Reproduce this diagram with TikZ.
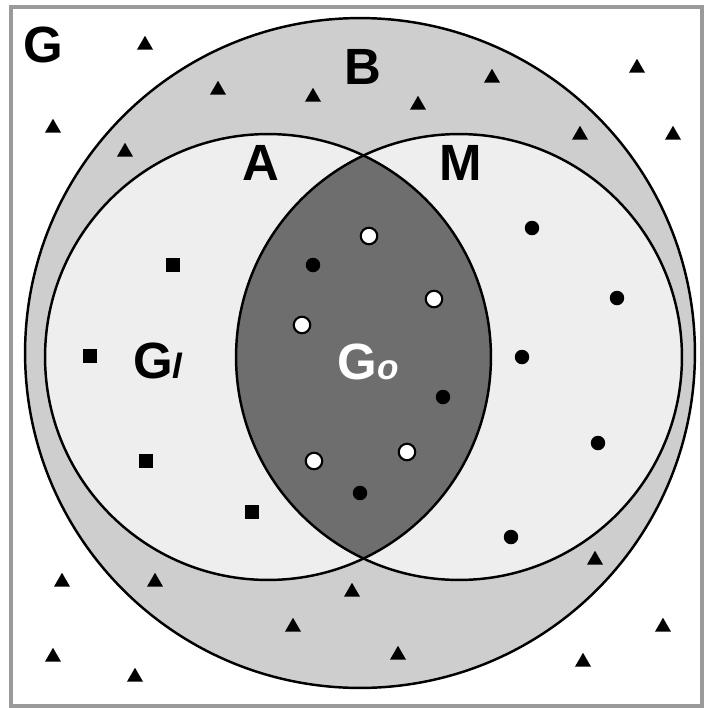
\documentclass[tikz,border=0pt]{standalone}
\usepackage{fontspec}
\setmainfont{Liberation Sans}
\usetikzlibrary{shapes.geometric}

\definecolor{ringGRAY}{HTML}{CECECE}
\definecolor{setGRAY}{HTML}{EEEEEE}
\definecolor{lensGRAY}{HTML}{6E6E6E}
\definecolor{frameGRAY}{HTML}{9A9A9A}

\tikzset{
  setline/.style={draw=black, line width=1.4pt},
  setlabel/.style={inner sep=0pt, font=\fontsize{29}{31}\selectfont\bfseries},
  tri/.style={regular polygon, regular polygon sides=3, fill=black, inner sep=0pt, minimum size=0.37cm},
  sq/.style={rectangle, fill=black, inner sep=0pt, minimum size=0.29cm},
  dot/.style={circle, fill=black, inner sep=0pt, minimum size=0.29cm},
  odot/.style={circle, draw=black, fill=white, line width=1.2pt, inner sep=0pt, minimum size=0.33cm}
}

\begin{document}
\begin{tikzpicture}[x=0.02cm, y=-0.02cm]
    \useasboundingbox (0,0) rectangle (706,708);
    % Frame
    \draw[frameGRAY, line width=0.07cm] (11,7) rectangle (702,706);

    % Sets
    \coordinate (cB) at (360,353);
    \coordinate (cA) at (268,357);
    \coordinate (cM) at (459,357);
    \fill[ringGRAY] (cB) circle (6.7cm);
    \fill[setGRAY] (cA) circle (4.46cm);
    \fill[setGRAY] (cM) circle (4.46cm);
    \begin{scope}
      \clip (cA) circle (4.46cm);
      \fill[lensGRAY] (cM) circle (4.46cm);
    \end{scope}
    \draw[setline] (cB) circle (6.7cm);
    \draw[setline] (cA) circle (4.46cm);
    \draw[setline] (cM) circle (4.46cm);

    % Labels
    \node[setlabel] (lblG) at (43,45) {G};
    \node[setlabel] (lblB) at (363,67) {B};
    \node[setlabel] (lblA) at (261,163) {A};
    \node[setlabel] (lblM) at (461,163) {M};
    \node[setlabel] (lblGl) at (158,361) {G\textit{\fontsize{20}{20}\selectfont l}};
    \node[setlabel, text=white] (lblGo) at (368,362) {G\textit{\fontsize{20}{20}\selectfont o}};

    % Elements outside A and M
    \foreach \px/\py [count=\i] in {145/45, 218/90, 313/97, 418/105, 492/78, 637/68, 53/128, 125/152, 580/135, 673/135,
        62/582, 155/582, 352/592, 595/560, 293/627, 663/627, 53/657, 135/677, 398/655, 583/662}
      \node[tri] (t\i) at (\px,\py) {};
    % Elements of A only
    \foreach \px/\py [count=\i] in {173/265, 90/356, 146/461, 252/512}
      \node[sq] (s\i) at (\px,\py) {};
    % Elements of M
    \foreach \px/\py [count=\i] in {532/228, 617/298, 522/357, 598/443, 511/537, 313/265, 443/397, 360/493}
      \node[dot] (d\i) at (\px,\py) {};
    \foreach \px/\py [count=\i] in {369/236, 434/299, 302/325, 314/461, 407/452}
      \node[odot] (o\i) at (\px,\py) {};
\end{tikzpicture}
\end{document}
